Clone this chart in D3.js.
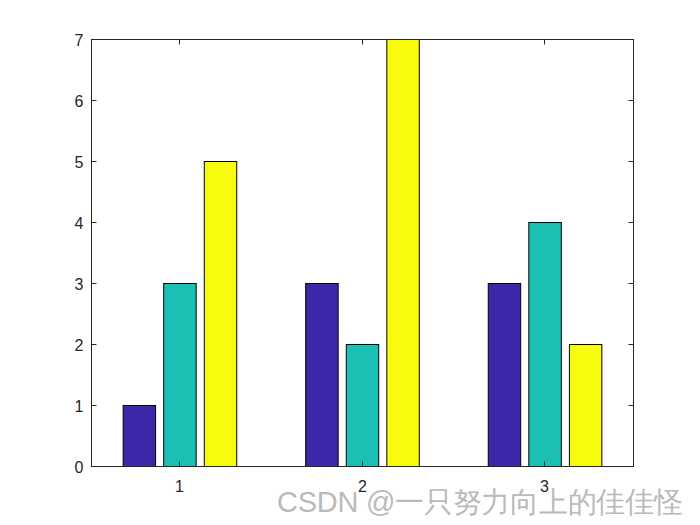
<!DOCTYPE html>
<html>
<head>
<meta charset="utf-8">
<script src="https://cdn.jsdelivr.net/npm/d3@7"></script>
<style>
  body { margin: 0; background: #fff; }
  text { font-family: "Liberation Sans", Arial, sans-serif; }
</style>
</head>
<body>
<script>
// data
var categories = [1, 2, 3];
var series1 = [1, 3, 3];
var series2 = [3, 2, 4];
var series3 = [5, 7, 2];
var yTicks = [0, 1, 2, 3, 4, 5, 6, 7];
var colors = ["#3e26a8", "#1bbfb3", "#f9fb0e"];

var w = 700, h = 525;
var mLeft = 91.5, mRight = 633.5, mTop = 39.5, mBottom = 466.5;

var svg = d3.select("body").append("svg").attr("width", w).attr("height", h);
svg.append("rect").attr("width", w).attr("height", h).attr("fill", "#fff");

var x = d3.scaleLinear().domain([0.5155, 3.4845]).range([mLeft, mRight]);
var y = d3.scaleLinear().domain([0, 7]).range([mBottom, mTop]);

// grouped bar geometry (matlab style)
var groupW = 0.6667, step = groupW / 3, barW = step * 0.8;
var allSeries = [series1, series2, series3];

allSeries.forEach(function(s, si) {
  var off = (si - 1) * step;
  svg.selectAll("rect.s" + si).data(s).enter()
    .append("rect")
    .attr("class", "s" + si)
    .attr("x", function(d, i) { return x(categories[i] + off - barW / 2); })
    .attr("width", function() { return x(barW) - x(0); })
    .attr("y", function(d) { return y(d); })
    .attr("height", function(d) { return y(0) - y(d); })
    .attr("fill", colors[si])
    .attr("stroke", "#000")
    .attr("stroke-width", 1);
});

// axes box with inward ticks
var g = svg.append("g");
g.append("rect").attr("x", mLeft).attr("y", mTop)
  .attr("width", mRight - mLeft).attr("height", mBottom - mTop)
  .attr("fill", "none").attr("stroke", "#262626").attr("stroke-width", 1);

var tl = 5;
yTicks.forEach(function(t) {
  g.append("line").attr("x1", mLeft).attr("x2", mLeft + tl)
    .attr("y1", y(t)).attr("y2", y(t)).attr("stroke", "#262626");
  g.append("line").attr("x1", mRight).attr("x2", mRight - tl)
    .attr("y1", y(t)).attr("y2", y(t)).attr("stroke", "#262626");
  g.append("text").attr("x", mLeft - 8).attr("y", y(t) + 6)
    .attr("text-anchor", "end").attr("font-size", 16).attr("fill", "#262626")
    .text(t);
});
categories.forEach(function(c) {
  var cx = Math.round(x(c)) - 0.5;
  g.append("line").attr("x1", cx).attr("x2", cx)
    .attr("y1", mBottom).attr("y2", mBottom - tl).attr("stroke", "#262626");
  g.append("line").attr("x1", cx).attr("x2", cx)
    .attr("y1", mTop).attr("y2", mTop + tl).attr("stroke", "#262626");
  g.append("text").attr("x", cx).attr("y", mBottom + 25)
    .attr("text-anchor", "middle").attr("font-size", 16).attr("fill", "#262626")
    .text(c);
});

// watermark
svg.append("text").attr("x", 277).attr("y", 512)
  .attr("font-family", "'Noto Sans CJK SC', 'Liberation Sans', sans-serif")
  .attr("font-size", 29).attr("font-weight", 300)
  .attr("textLength", 406).attr("lengthAdjust", "spacing")
  .attr("fill", "#bababa")
  .text("CSDN @一只努力向上的佳佳怪");
</script>
</body>
</html>
